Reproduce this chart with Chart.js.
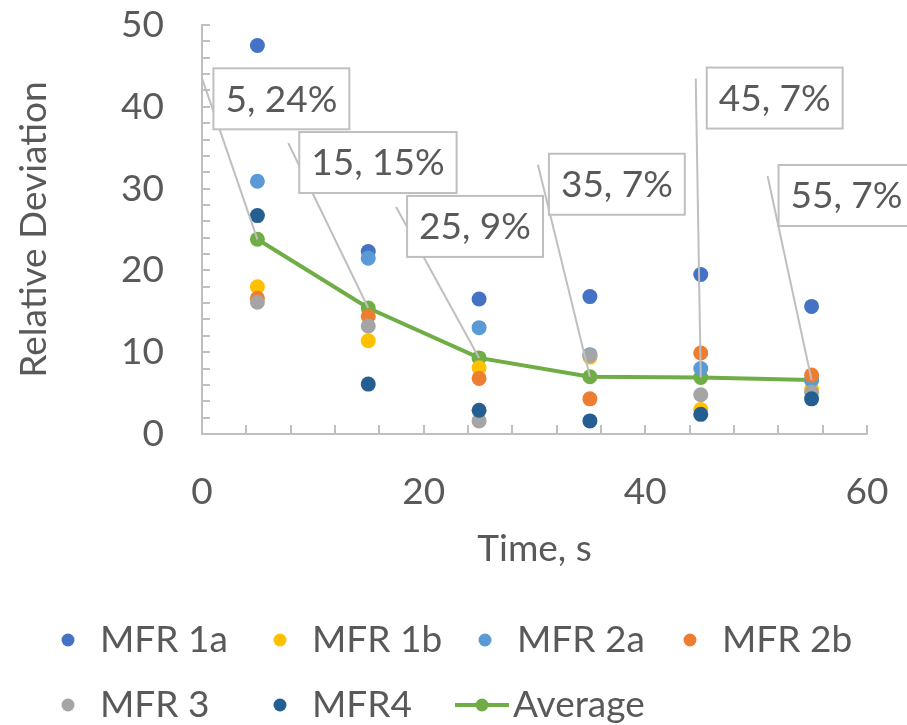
<!DOCTYPE html>
<html>
<head>
<meta charset="utf-8">
<script src="https://cdn.jsdelivr.net/npm/chart.js@4.4.0/dist/chart.umd.min.js"></script>
<style>
  html, body { margin: 0; padding: 0; background: #fff; }
</style>
</head>
<body>
<canvas id="myChart" width="907" height="725"></canvas>
<script>
  // values
  const times = [5, 15, 25, 35, 45, 55];
  const mfr1a = [47.5, 22.3, 16.5, 16.8, 19.5, 15.6];
  const mfr1b = [18.0, 11.4, 8.1, 9.4, 3.0, 5.5];
  const mfr2a = [30.9, 21.5, 13.0, 9.7, 8.0, 6.6];
  const mfr2b = [16.6, 14.4, 6.8, 4.3, 9.9, 7.2];
  const mfr3 = [16.1, 13.2, 1.6, 9.6, 4.8, 5.1];
  const mfr4 = [26.7, 6.1, 2.9, 1.6, 2.4, 4.3];
  const average = [23.8, 15.4, 9.3, 7.0, 6.9, 6.6];

  const xTicks = [0, 20, 40, 60];
  const yTicks = [0, 10, 20, 30, 40, 50];

  // callout box offsets (px) from each average point
  const labelOffsets = [[-44, -171], [-69, -176], [-72, -162], [-41, -223], [6, -310], [-33, -215]];
  // legend slots (px)
  const legendSlots = [[68, 640], [280, 640], [485, 640], [690, 640], [68, 705], [280, 705], [482, 705]];

  const FONT = 'Lato';
  const TEXT = '#595959';
  const AXIS = '#BFBFBF';

  function pts(values) {
    return times.map((t, i) => ({ x: t, y: values[i] }));
  }

  function dots(label, values, color, order) {
    return {
      label: label,
      data: pts(values),
      backgroundColor: color,
      borderColor: color,
      pointRadius: 7.5,
      pointHoverRadius: 7.5,
      pointBorderWidth: 0,
      showLine: false,
      order: order
    };
  }

  const datasets = [
    dots('MFR 1a', mfr1a, '#4472C4', 6),
    dots('MFR 1b', mfr1b, '#FFC000', 5),
    dots('MFR 2a', mfr2a, '#5B9BD5', 4),
    dots('MFR 2b', mfr2b, '#ED7D31', 3),
    dots('MFR 3', mfr3, '#A5A5A5', 2),
    dots('MFR4', mfr4, '#255E91', 1),
    {
      label: 'Average',
      data: pts(average),
      showLine: true,
      borderColor: '#70AD47',
      backgroundColor: '#70AD47',
      borderWidth: 4,
      pointRadius: 7.5,
      pointHoverRadius: 7.5,
      pointBorderWidth: 0,
      order: 10
    }
  ];

  // small inward tick marks like the excel axes
  const tickMarks = {
    id: 'tickMarks',
    beforeDatasetsDraw(chart) {
      const ctx = chart.ctx;
      const xs = chart.scales.x, ys = chart.scales.y;
      ctx.save();
      ctx.strokeStyle = AXIS;
      ctx.lineWidth = 2;
      ctx.beginPath();
      for (let v = 0; v <= 60; v += 4) {
        const px = Math.round(xs.getPixelForValue(v));
        ctx.moveTo(px, ys.bottom);
        ctx.lineTo(px, ys.bottom - 9);
      }
      for (let v = 0; v <= 50; v += 2) {
        const py = Math.round(ys.getPixelForValue(v));
        ctx.moveTo(xs.left, py);
        ctx.lineTo(xs.left + 8, py);
      }
      ctx.stroke();
      ctx.restore();
    }
  };

  // data label callouts for the average series
  const callouts = {
    id: 'callouts',
    afterDatasetsDraw(chart) {
      const ctx = chart.ctx;
      const idx = chart.data.datasets.length - 1;
      const meta = chart.getDatasetMeta(idx);
      ctx.save();
      ctx.font = '37px ' + FONT;
      meta.data.forEach((p, i) => {
        const text = times[i] + ', ' + Math.round(average[i]) + '%';
        const w = ctx.measureText(text).width + 24;
        const h = 61;
        const left = p.x + labelOffsets[i][0];
        const top = p.y + labelOffsets[i][1];
        ctx.strokeStyle = '#BFBFBF';
        ctx.lineWidth = 2;
        ctx.beginPath();
        ctx.moveTo(left - 11, top + 11);
        ctx.lineTo(p.x, p.y);
        ctx.stroke();
        ctx.fillStyle = '#fff';
        ctx.fillRect(left, top, w, h);
        ctx.strokeRect(left, top, w, h);
        ctx.fillStyle = TEXT;
        ctx.textAlign = 'center';
        ctx.textBaseline = 'middle';
        ctx.fillText(text, left + w / 2, top + h / 2 + 1);
      });
      ctx.restore();
    }
  };

  // legend laid out in excel-like columns
  const gridLegend = {
    id: 'gridLegend',
    afterDraw(chart) {
      const ctx = chart.ctx;
      ctx.save();
      ctx.font = '37px ' + FONT;
      ctx.textBaseline = 'middle';
      ctx.textAlign = 'left';
      chart.data.datasets.forEach((ds, i) => {
        const [x, y] = legendSlots[i];
        let tx = x + 32;
        if (ds.showLine) {
          ctx.strokeStyle = ds.borderColor;
          ctx.lineWidth = 4;
          ctx.beginPath();
          ctx.moveTo(x - 27, y);
          ctx.lineTo(x + 27, y);
          ctx.stroke();
          tx = x + 31;
        }
        ctx.fillStyle = ds.backgroundColor;
        ctx.beginPath();
        ctx.arc(x, y, 6.5, 0, Math.PI * 2);
        ctx.fill();
        ctx.fillStyle = TEXT;
        ctx.fillText(ds.label, tx, y);
      });
      ctx.restore();
    }
  };

  const config = {
    type: 'scatter',
    data: { datasets: datasets },
    options: {
      responsive: false,
      animation: false,
      devicePixelRatio: 1,
      layout: { padding: { left: 12, right: 40, top: 25, bottom: 150 } },
      plugins: {
        legend: { display: false },
        tooltip: { enabled: false }
      },
      scales: {
        x: {
          type: 'linear',
          min: 0,
          max: 60,
          afterBuildTicks(scale) { scale.ticks = xTicks.map(v => ({ value: v })); },
          afterFit(scale) { scale.height = 141; scale.paddingLeft = 0; scale.paddingRight = 0; },
          grid: { display: false, drawTicks: false },
          border: { display: true, color: AXIS, width: 2 },
          ticks: { color: TEXT, font: { family: FONT, size: 37 }, padding: 36, maxRotation: 0 },
          title: { display: true, text: 'Time, s', color: TEXT, font: { family: FONT, size: 37 }, padding: { top: 0, bottom: 4 } }
        },
        y: {
          min: 0,
          max: 50,
          afterBuildTicks(scale) { scale.ticks = yTicks.map(v => ({ value: v })); },
          afterFit(scale) { scale.width = 190; scale.paddingTop = 0; scale.paddingBottom = 0; },
          grid: { display: false, drawTicks: false },
          border: { display: true, color: AXIS, width: 2 },
          ticks: { color: TEXT, font: { family: FONT, size: 37 }, padding: 38 },
          title: { display: true, text: 'Relative Deviation', color: TEXT, font: { family: FONT, size: 37 }, padding: 0 }
        }
      }
    },
    plugins: [tickMarks, callouts, gridLegend]
  };

  const myChart = new Chart(document.getElementById('myChart'), config);
</script>
</body>
</html>
